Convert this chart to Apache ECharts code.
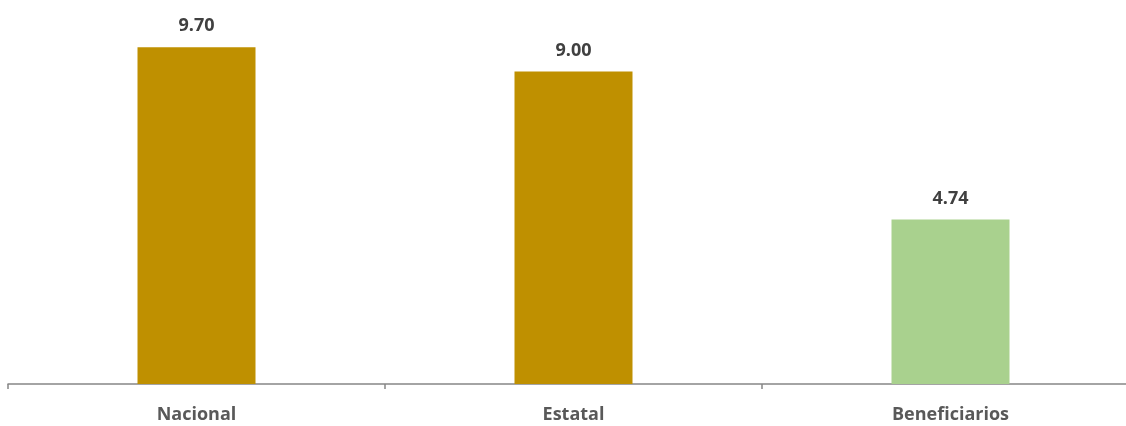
<!DOCTYPE html>
<html><head><meta charset="utf-8">
<script src="https://cdn.jsdelivr.net/npm/echarts@6/dist/echarts.min.js"></script>
<style>html,body{margin:0;padding:0;background:#fff}#c{width:1126px;height:426px}</style>
</head><body><div id="c"></div>
<script>
const categories = ['Nacional', 'Estatal', 'Beneficiarios'];
const values = [9.70, 9.00, 4.74];
const barColors = ['#BF9000', '#BF9000', '#A9D18E'];

const chart = echarts.init(document.getElementById('c'), null, {renderer: 'canvas'});
chart.setOption({
  animation: false,
  grid: {left: 8, right: -13, top: 2, bottom: 42, containLabel: false, outerBoundsMode: 'none'},
  xAxis: {
    type: 'category', data: categories,
    axisLine: {lineStyle: {color: '#878787', width: 1.5}},
    axisTick: {show: true, length: 5, lineStyle: {color: '#878787', width: 1.5}},
    axisLabel: {color: '#595959', fontFamily: 'Open Sans', fontWeight: 'bold', fontSize: 18, margin: 22}
  },
  yAxis: {type: 'value', min: 0, max: 11, show: false, splitLine: {show: false}},
  series: [{
    type: 'bar', barWidth: 118,
    data: values.map((v, i) => ({value: v, itemStyle: {color: barColors[i]}})),
    label: {show: true, position: 'top', distance: 12, color: '#404040', fontFamily: 'Open Sans', fontWeight: 'bold', fontSize: 18,
      formatter: p => p.value.toFixed(2)}
  }]
});
</script></body></html>
